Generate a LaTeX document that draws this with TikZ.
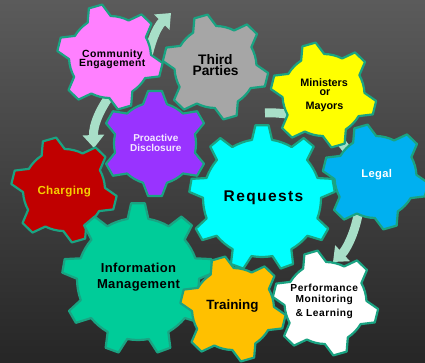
\documentclass[tikz,border=0pt]{standalone}
\usepackage{fontspec}
\setmainfont{Liberation Sans}
\usetikzlibrary{arrows.meta}
\definecolor{bgtop}{HTML}{5B5B5B}
\definecolor{bgbot}{HTML}{262626}
\definecolor{gearedge}{HTML}{1AA382}
\definecolor{arrowc}{HTML}{A8DFC8}
\definecolor{cpink}{HTML}{FF80FF}
\definecolor{cgray}{HTML}{A6A6A6}
\definecolor{cyellow}{HTML}{FFFF00}
\definecolor{cblue}{HTML}{00B0F0}
\definecolor{ccyan}{HTML}{00FFFF}
\definecolor{cpurple}{HTML}{9933FF}
\definecolor{cred}{HTML}{C00000}
\definecolor{cteal}{HTML}{00CC99}
\definecolor{corange}{HTML}{FFC000}
\definecolor{cgold}{HTML}{F5D000}
\definecolor{clav}{HTML}{F4E8FF}
\newcommand\fsz[2]{\fontsize{#1}{#1}\selectfont\bfseries\addfontfeature{LetterSpace=#2}}
% cx, cy, teeth, rin, rout, phase, tip half angle, base half angle, fill
\newcommand\drawgear[9]{%
  \begin{scope}[shift={(#1,#2)}]
  \pgfmathsetmacro\gP{360/#3}
  \pgfmathtruncatemacro\gN{#3-1}
  \draw[gearline, fill=#9] ({#6-#8}:#4)
   \foreach \k in {0,...,\gN}{
     -- ({#6+\k*\gP-#7}:#5) -- ({#6+\k*\gP+#7}:#5) -- ({#6+\k*\gP+#8}:#4)
     arc[start angle={#6+\k*\gP+#8}, end angle={#6+(\k+1)*\gP-#8}, radius=#4]
   } -- cycle;
  \end{scope}}
\begin{document}
\begin{tikzpicture}[x=1pt,y=-1pt,
  gearline/.style={draw=gearedge, line width=2.2pt, line join=round},
  lbl/.style={anchor=base, inner sep=0pt, text=black},
  flow/.style={draw=arrowc, line width=9pt, -{Triangle[width=21pt,length=13pt]}}]
\useasboundingbox (0,0) rectangle (425,363);
\clip (0,0) rectangle (425,363);
\fill[top color=bgtop, bottom color=bgbot] (0,0) rectangle (425,363);
% arrows (behind the gears)
\coordinate (a1s) at (145,72);
\coordinate (a1e) at (171,13);
\coordinate (a2s) at (114,90);
\coordinate (a2e) at (94,148);
\coordinate (a3s) at (265,113);
\coordinate (a3m) at (358,215);
\coordinate (a3e) at (333,262);
\draw[flow] (a1s) .. controls (149,45) and (156,28) .. (a1e);
\draw[flow] (a2s) .. controls (100,108) and (93,125) .. (a2e);
\draw[flow] (a3s) .. controls (330,110) and (372,160) .. (a3m) .. controls (354,235) and (346,250) .. (a3e);
% gears
\drawgear{64}{190}{6}{41}{53}{-106}{7.5}{17}{cred}
\drawgear{110}{57}{6}{41}{53}{-106}{7.5}{17}{cpink}
\drawgear{215.5}{67}{6}{41}{53}{-106}{7.5}{17}{cgray}
\drawgear{138}{279}{9}{61}{76}{-90}{5.2}{9.8}{cteal}
\drawgear{155}{143.5}{6}{41}{53}{-90}{7.5}{17}{cpurple}
\drawgear{262}{198}{9}{59}{73}{-90}{5.2}{9.8}{ccyan}
\drawgear{323.5}{95}{6}{41}{53}{-106}{7.5}{17}{cyellow}
\drawgear{375.5}{177}{6}{41}{53}{-106}{7.5}{17}{cblue}
\drawgear{233}{309}{6}{41}{53}{-106}{7.5}{17}{corange}
\drawgear{325.5}{303}{6}{41}{53}{-106}{7.5}{17}{white}
% labels
\node[lbl, font=\fsz{10.4}{4}] (ce1) at (112.5,57.3) {Community};
\node[lbl, font=\fsz{10.4}{4}] (ce2) at (112.3,66.7) {Engagement};
\node[lbl, font=\fsz{13.8}{0}] (tp1) at (215.4,64.3) {Third};
\node[lbl, font=\fsz{13.8}{0}] (tp2) at (215.6,75.7) {Parties};
\node[lbl, font=\fsz{10.8}{0}] (mm1) at (324.2,87) {Ministers};
\node[lbl, font=\fsz{10.8}{0}] (mm2) at (325,96) {or};
\node[lbl, font=\fsz{10.8}{0}] (mm3) at (324.5,110) {Mayors};
\node[lbl, font=\fsz{10}{0}, text=clav] (pd1) at (155.8,141.3) {Proactive};
\node[lbl, font=\fsz{10}{0}, text=clav] (pd2) at (155.8,152) {Disclosure};
\node[lbl, font=\fsz{11.6}{3}, text=cgold] (ch) at (64.2,195) {Charging};
\node[lbl, font=\fsz{15.5}{9}] (rq) at (263.5,201.3) {Requests};
\node[lbl, font=\fsz{11.2}{3}, text=white] (lg) at (376.7,177.3) {Legal};
\node[lbl, font=\fsz{13}{3}] (im1) at (138.5,272.7) {Information};
\node[lbl, font=\fsz{13}{3}] (im2) at (138.5,288.6) {Management};
\node[lbl, font=\fsz{13.4}{0}] (tr) at (232.5,309.3) {Training};
\node[lbl, font=\fsz{10.2}{5}] (pm1) at (324.2,291.7) {Performance};
\node[lbl, font=\fsz{10.2}{5}] (pm2) at (324.3,302.3) {Monitoring};
\node[lbl, font=\fsz{10.2}{5}] (pm3) at (324.2,316) {\&~Learning};
\end{tikzpicture}
\end{document}
